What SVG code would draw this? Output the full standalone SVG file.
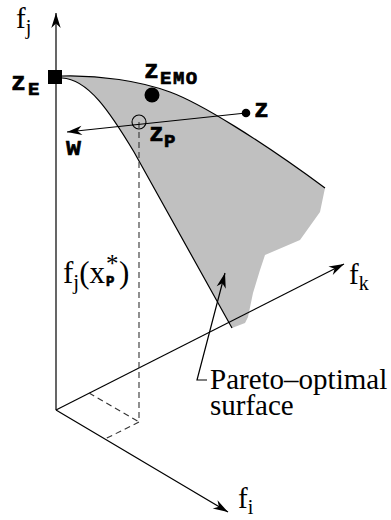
<svg xmlns="http://www.w3.org/2000/svg" width="391" height="520" viewBox="0 0 391 520">
<style>
.ax{stroke:#000;stroke-width:1.2;fill:none}
.dash{stroke:#333;stroke-width:1.1;fill:none;stroke-dasharray:6 4}
.tm{font-family:"Liberation Serif","Times New Roman",serif;fill:#000}
.cr{font-family:"Liberation Mono","Courier New",monospace;font-weight:bold;fill:#000;stroke:#000;stroke-width:0.7}
</style>
<defs>
<marker id="ah" markerUnits="userSpaceOnUse" markerWidth="20" markerHeight="14" refX="0" refY="0" viewBox="-16 -7 18 14" orient="auto" overflow="visible">
<path d="M0,0 L-15,-4.7 L-10.5,0 L-15,4.7 Z" fill="#000"/>
</marker>
</defs>
<g id="surface">
<path d="M62,76 C100,75 140,81 170,92 S260,140 325,188 L320,212 L300,240 L265,255 L260,270 L253,293 L248,317 L245,323 L232,328 L134,152 C110,112 88,79 62,78 Z" fill="#c0c0c0" stroke="none"/>
<path d="M62,76 C100,75 140,81 170,92 S260,140 325,188" class="ax"/>
<path d="M62,78 C88,79 110,112 134,152 L232,328" class="ax"/>
</g>
<g id="connectors">
<line x1="56" y1="410" x2="56" y2="13" class="ax" marker-end="url(#ah)"/>
<line x1="56" y1="410" x2="344" y2="264" class="ax" marker-end="url(#ah)"/>
<line x1="56" y1="410" x2="228" y2="512" class="ax" marker-end="url(#ah)"/>
<polyline points="139,122 139,422 105,439" class="dash"/>
<line x1="89" y1="393" x2="139" y2="422" class="dash"/>
<line x1="246" y1="113" x2="67" y2="132" class="ax" marker-end="url(#ah)"/>
<polyline points="207,380 197,380 225,273" class="ax" marker-end="url(#ah)"/>
</g>
<g id="zE">
<rect x="48" y="70" width="14" height="14" fill="#000"/>
<text class="cr" x="11" y="90" font-size="25">z</text>
<text class="cr" x="28" y="95" font-size="19">E</text>
</g>
<g id="zEMO">
<circle cx="152" cy="95" r="7.5" fill="#000"/>
<text class="cr" x="144" y="78" font-size="25">z</text>
<text class="cr" x="160" y="84" font-size="19" letter-spacing="1.5">EMO</text>
</g>
<g id="z">
<circle cx="246" cy="113" r="4.3" fill="#000"/>
<text class="cr" x="254" y="117" font-size="25">z</text>
</g>
<g id="zP">
<circle cx="139" cy="122" r="7" fill="none" stroke="#000" stroke-width="1.1"/>
<text class="cr" x="149" y="141" font-size="25">z</text>
<text class="cr" x="164" y="147" font-size="19">P</text>
</g>
<g id="w">
<text class="cr" x="66" y="155" font-size="25">w</text>
</g>
<g id="labels">
<text class="tm" x="16" y="28" font-size="29">f<tspan font-size="20" dy="6">j</tspan></text>
<text class="tm" x="349" y="284" font-size="29">f<tspan font-size="20" dy="6">k</tspan></text>
<text class="tm" x="238" y="508" font-size="29">f<tspan font-size="20" dy="6">i</tspan></text>
<text class="tm" x="63" y="283" font-size="31">f<tspan font-size="21" dy="6">j</tspan><tspan dy="-6">(x</tspan></text>
<text class="tm" x="106" y="272" font-size="25">*</text>
<text class="cr" x="106" y="286" font-size="14" stroke-width="0.4">P</text>
<text class="tm" x="119" y="283" font-size="31">)</text>
<text class="tm" x="210" y="389" font-size="29">Pareto–optimal</text>
<text class="tm" x="210" y="415" font-size="29">surface</text>
</g>
</svg>
